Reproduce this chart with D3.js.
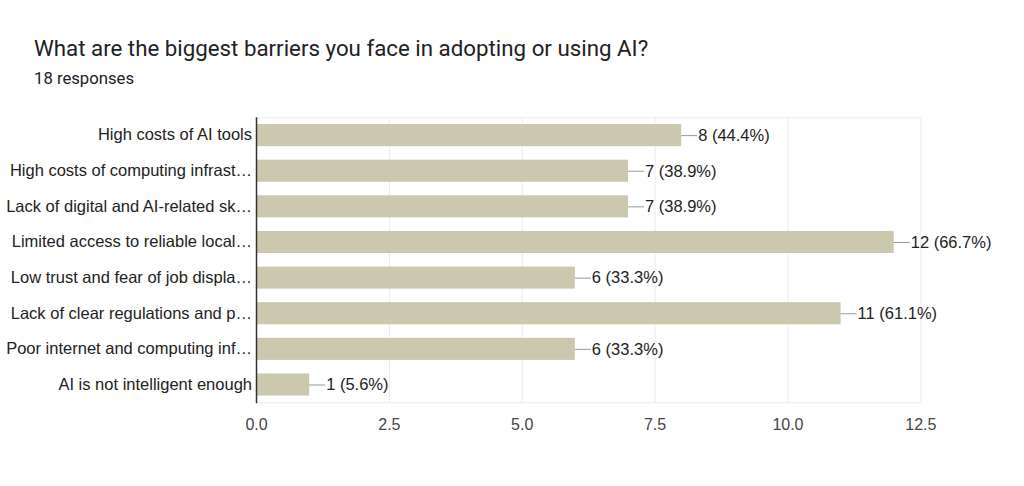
<!DOCTYPE html>
<html>
  <head>
    <meta charset="utf-8">
    <title>Barriers to adopting AI</title>
    <script src="https://d3js.org/d3.v7.min.js"></script>
    <style>
      body { margin: 0; background: #fff; }
    </style>
  </head>
  <body>
    <script>
      // data
      const categories = [
        "High costs of AI tools",
        "High costs of computing infrast\u2026",
        "Lack of digital and AI-related sk\u2026",
        "Limited access to reliable local\u2026",
        "Low trust and fear of job displa\u2026",
        "Lack of clear regulations and p\u2026",
        "Poor internet and computing inf\u2026",
        "AI is not intelligent enough"
      ];
      const counts = [8, 7, 7, 12, 6, 11, 6, 1];
      const totalResponses = 18;
      const xTicks = [0, 2.5, 5, 7.5, 10, 12.5];

      const width = 1024, height = 486;
      const plot = { left: 256, right: 920.3, top: 117.3, bottom: 402.3 };

      const svg = d3.select("body").append("svg")
          .attr("width", width)
          .attr("height", height);

      // title and subtitle
      svg.append("text")
          .attr("x", 34)
          .attr("y", 56)
          .style("font-family", "Roboto, sans-serif")
          .style("font-size", "22.3px")
          .style("fill", "#202124")
          .text("What are the biggest barriers you face in adopting or using AI?");

      svg.append("text")
          .attr("x", 34)
          .attr("y", 84)
          .style("font-family", "Roboto, sans-serif")
          .style("font-size", "16.7px")
          .style("fill", "#202124")
          .text(totalResponses + " responses");

      const x = d3.scaleLinear()
          .domain([0, 12.5])
          .range([plot.left, plot.right]);

      const y = d3.scaleBand()
          .domain(categories)
          .range([plot.top, plot.bottom])
          .paddingInner(0.38)
          .paddingOuter(0.19);

      // gridlines
      svg.append("g")
          .selectAll("line")
          .data(xTicks)
          .join("line")
          .attr("x1", d => x(d) + 0.5)
          .attr("x2", d => x(d) + 0.5)
          .attr("y1", plot.top)
          .attr("y2", plot.bottom)
          .style("stroke", "#ebebeb");

      svg.append("line")
          .attr("x1", plot.left)
          .attr("x2", plot.right)
          .attr("y1", plot.top + 0.5)
          .attr("y2", plot.top + 0.5)
          .style("stroke", "#ebebeb");
      svg.append("line")
          .attr("x1", plot.left)
          .attr("x2", plot.right)
          .attr("y1", plot.bottom + 0.5)
          .attr("y2", plot.bottom + 0.5)
          .style("stroke", "#ebebeb");

      // x axis labels
      const xAxis = d3.axisBottom(x)
          .tickValues(xTicks)
          .tickFormat(d3.format(".1f"))
          .tickSize(0)
          .tickPadding(16);

      const xg = svg.append("g")
          .attr("transform", `translate(0,${plot.bottom})`)
          .call(xAxis);
      xg.select(".domain").remove();
      xg.selectAll("text")
          .style("font-family", "'Liberation Sans', Arial, sans-serif")
          .style("font-size", "16px")
          .style("fill", "#444");

      // bars
      const row = svg.append("g")
          .selectAll("g")
          .data(categories.map((c, i) => ({ name: c, value: counts[i] })))
          .join("g");

      row.append("rect")
          .attr("x", x(0))
          .attr("y", d => y(d.name))
          .attr("width", d => x(d.value) - x(0))
          .attr("height", y.bandwidth())
          .style("fill", "#cbc8ae");

      // leader lines and value labels
      row.append("line")
          .attr("x1", d => x(d.value))
          .attr("x2", d => x(d.value) + 16)
          .attr("y1", d => y(d.name) + y.bandwidth() / 2 + 0.5)
          .attr("y2", d => y(d.name) + y.bandwidth() / 2 + 0.5)
          .style("stroke", "#999");

      row.append("text")
          .attr("x", d => x(d.value) + 17)
          .attr("y", d => y(d.name) + y.bandwidth() / 2)
          .attr("dy", "0.35em")
          .style("font-family", "'Liberation Sans', Arial, sans-serif")
          .style("font-size", "16.5px")
          .style("fill", "#222")
          .text(d => `${d.value} (${(d.value / totalResponses * 100).toFixed(1)}%)`);

      // y axis
      const yAxis = d3.axisLeft(y).tickSize(0).tickPadding(4);
      const yg = svg.append("g")
          .attr("transform", `translate(${plot.left},0)`)
          .call(yAxis);
      yg.select(".domain")
          .attr("d", `M0.5,${plot.top}V${plot.bottom + 1}`)
          .style("stroke", "#333")
          .style("stroke-width", 1.5);
      yg.selectAll("text")
          .style("font-family", "'Liberation Sans', Arial, sans-serif")
          .style("font-size", "16.5px")
          .style("fill", "#222");
    </script>
  </body>
</html>
